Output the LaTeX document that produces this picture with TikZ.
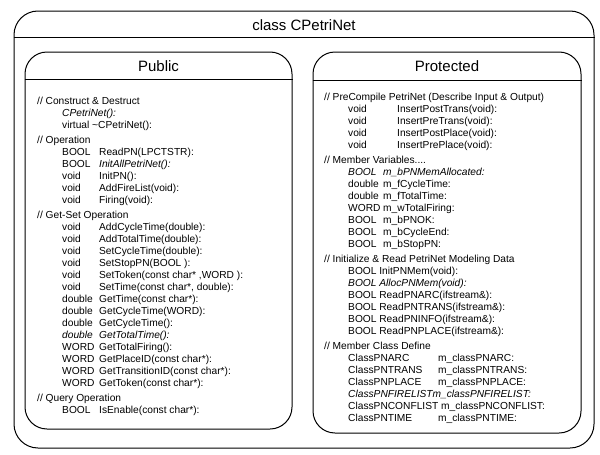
\documentclass[tikz,border=0pt]{standalone}
\usepackage{fontspec}
\setmainfont{Liberation Sans}
\newcommand\tcol[2]{\makebox[#1][l]{#2}}
\begin{document}
\begin{tikzpicture}[x=1pt,y=-1pt,
  frame/.style={draw=black, line width=1pt, rounded corners=24pt, inner sep=0pt},
  rule/.style={draw=black, line width=1pt},
  head/.style={font=\fontsize{15}{18}\selectfont, inner sep=0pt},
  txt/.style={anchor=base west, inner sep=0pt, font=\fontsize{10.2}{12}\selectfont},
]
\useasboundingbox (0,0) rectangle (600,455);
% outer class box
\node[frame, minimum width=580pt, minimum height=437pt] (outer) at (304,229.5) {};
\path (outer.north west) ++(0,27) coordinate (ol);
\path (outer.north east) ++(0,27) coordinate (or);
\draw[rule] (ol) -- (or);
\node[head] (title) at (304,25) {class CPetriNet};
% public box
\node[frame, rounded corners=22pt, minimum width=267pt, minimum height=377pt] (pub) at (158.5,240.5) {};
\path (pub.north west) ++(0,28) coordinate (pl);
\path (pub.north east) ++(0,28) coordinate (pr);
\draw[rule] (pl) -- (pr);
\node[head] (pubt) at (158.5,66) {Public};
% protected box
\node[frame, rounded corners=22pt, minimum width=268pt, minimum height=381pt] (pro) at (447,242.5) {};
\path (pro.north west) ++(0,29) coordinate (ql);
\path (pro.north east) ++(0,29) coordinate (qr);
\draw[rule] (ql) -- (qr);
\node[head] (prot) at (447,66) {Protected};
% public text
\node[txt] (p0) at (37,104) {// Construct \& Destruct};
\node[txt] (p1) at (62,116) {\itshape CPetriNet():};
\node[txt] (p2) at (62,128) {virtual \textasciitilde CPetriNet():};
\node[txt] (p3) at (37,143) {// Operation};
\node[txt] (p4) at (62,155) {\tcol{37pt}{BOOL}ReadPN(LPCTSTR):};
\node[txt] (p5) at (62,167) {\tcol{37pt}{BOOL}\itshape InitAllPetriNet():};
\node[txt] (p6) at (62,179) {\tcol{37pt}{void}InitPN():};
\node[txt] (p7) at (62,191) {\tcol{37pt}{void}AddFireList(void):};
\node[txt] (p8) at (62,203) {\tcol{37pt}{void}Firing(void):};
\node[txt] (p9) at (37,218) {// Get-Set Operation};
\node[txt] (p10) at (62,230) {\tcol{37pt}{void}AddCycleTime(double):};
\node[txt] (p11) at (62,242) {\tcol{37pt}{void}AddTotalTime(double):};
\node[txt] (p12) at (62,254) {\tcol{37pt}{void}SetCycleTime(double):};
\node[txt] (p13) at (62,266) {\tcol{37pt}{void}SetStopPN(BOOL ):};
\node[txt] (p14) at (62,278) {\tcol{37pt}{void}SetToken(const char* ,WORD ):};
\node[txt] (p15) at (62,290) {\tcol{37pt}{void}SetTime(const char*, double):};
\node[txt] (p16) at (62,302) {\tcol{37pt}{double}GetTime(const char*):};
\node[txt] (p17) at (62,314) {\tcol{37pt}{double}GetCycleTime(WORD):};
\node[txt] (p18) at (62,326) {\tcol{37pt}{double}GetCycleTime():};
\node[txt] (p19) at (62,338) {\itshape\tcol{37pt}{double}GetTotalTime():};
\node[txt] (p20) at (62,350) {\tcol{37pt}{WORD}GetTotalFiring():};
\node[txt] (p21) at (62,362) {\tcol{37pt}{WORD}GetPlaceID(const char*):};
\node[txt] (p22) at (62,374) {\tcol{37pt}{WORD}GetTransitionID(const char*):};
\node[txt] (p23) at (62,386) {\tcol{37pt}{WORD}GetToken(const char*):};
\node[txt] (p24) at (37,401) {// Query Operation};
\node[txt] (p25) at (62,413) {\tcol{37pt}{BOOL}IsEnable(const char*):};
% protected text
\node[txt] (q0) at (324,100) {// PreCompile PetriNet (Describe Input \& Output)};
\node[txt] (q1) at (348,112) {\tcol{49pt}{void}InsertPostTrans(void):};
\node[txt] (q2) at (348,124) {\tcol{49pt}{void}InsertPreTrans(void):};
\node[txt] (q3) at (348,136) {\tcol{49pt}{void}InsertPostPlace(void):};
\node[txt] (q4) at (348,148) {\tcol{49pt}{void}InsertPrePlace(void):};
\node[txt] (q5) at (324,163) {// Member Variables....};
\node[txt] (q6) at (348,175) {\itshape\tcol{35pt}{BOOL}m\_bPNMemAllocated:};
\node[txt] (q7) at (348,187) {\tcol{35pt}{double}m\_fCycleTime:};
\node[txt] (q8) at (348,199) {\tcol{35pt}{double}m\_fTotalTime:};
\node[txt] (q9) at (348,211) {\tcol{35pt}{WORD}m\_wTotalFiring:};
\node[txt] (q10) at (348,223) {\tcol{35pt}{BOOL}m\_bPNOK:};
\node[txt] (q11) at (348,235) {\tcol{35pt}{BOOL}m\_bCycleEnd:};
\node[txt] (q12) at (348,247) {\tcol{35pt}{BOOL}m\_bStopPN:};
\node[txt] (q13) at (324,262) {// Initialize \& Read PetriNet Modeling Data};
\node[txt] (q14) at (348,274) {BOOL InitPNMem(void):};
\node[txt] (q15) at (348,286) {\itshape BOOL AllocPNMem(void):};
\node[txt] (q16) at (348,298) {BOOL ReadPNARC(ifstream\&):};
\node[txt] (q17) at (348,310) {BOOL ReadPNTRANS(ifstream\&):};
\node[txt] (q18) at (348,322) {BOOL ReadPNINFO(ifstream\&):};
\node[txt] (q19) at (348,334) {BOOL ReadPNPLACE(ifstream\&):};
\node[txt] (q20) at (324,349) {// Member Class Define};
\node[txt] (q21) at (348,361) {\tcol{90pt}{ClassPNARC}m\_classPNARC:};
\node[txt] (q22) at (348,373) {\tcol{90pt}{ClassPNTRANS}m\_classPNTRANS:};
\node[txt] (q23) at (348,385) {\tcol{90pt}{ClassPNPLACE}m\_classPNPLACE:};
\node[txt] (q24) at (348,397) {\itshape ClassPNFIRELISTm\_classPNFIRELIST:};
\node[txt] (q25) at (348,409) {ClassPNCONFLIST m\_classPNCONFLIST:};
\node[txt] (q26) at (348,421) {\tcol{90pt}{ClassPNTIME}m\_classPNTIME:};
\end{tikzpicture}
\end{document}
